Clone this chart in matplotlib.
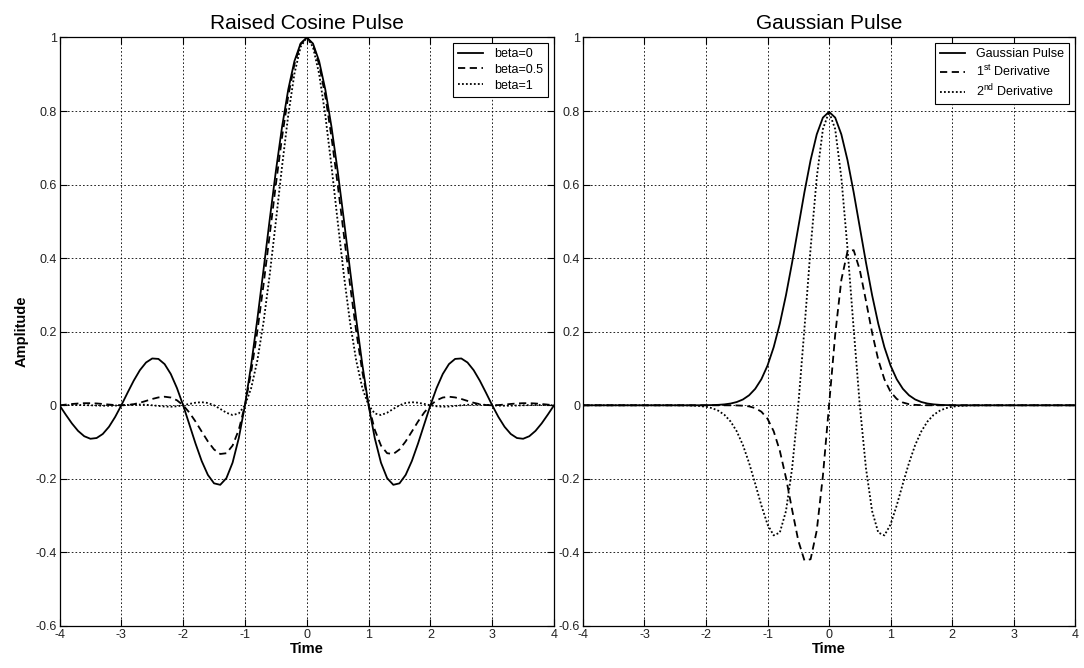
import matplotlib
matplotlib.use("Agg")
import matplotlib.pyplot as plt

plt.rcParams['font.family'] = ['Liberation Sans', 'DejaVu Sans']
plt.rcParams['mathtext.fontset'] = 'custom'
plt.rcParams['mathtext.rm'] = 'Liberation Sans'

# ---------------- data: raised cosine pulse ----------------
t_rc = [-4.0, -3.9, -3.8, -3.7, -3.6, -3.5, -3.4, -3.3, -3.2, -3.1,
        -3.0, -2.9, -2.8, -2.7, -2.6, -2.5, -2.4, -2.3, -2.2, -2.1,
        -2.0, -1.9, -1.8, -1.7, -1.6, -1.5, -1.4, -1.3, -1.2, -1.1,
        -1.0, -0.9, -0.8, -0.7, -0.6, -0.5, -0.4, -0.3, -0.2, -0.1,
        0.0, 0.1, 0.2, 0.3, 0.4, 0.5, 0.6, 0.7, 0.8, 0.9,
        1.0, 1.1, 1.2, 1.3, 1.4, 1.5, 1.6, 1.7, 1.8, 1.9,
        2.0, 2.1, 2.2, 2.3, 2.4, 2.5, 2.6, 2.7, 2.8, 2.9,
        3.0, 3.1, 3.2, 3.3, 3.4, 3.5, 3.6, 3.7, 3.8, 3.9, 4.0]

beta0 = [0.0, -0.0252, -0.0492, -0.0696, -0.0841, -0.0910, -0.0890, -0.0780, -0.0585, -0.0317,
         0.0, 0.0339, 0.0668, 0.0954, 0.1164, 0.1273, 0.1261, 0.1120, 0.0851, 0.0468,
         0.0, -0.0518, -0.1039, -0.1515, -0.1892, -0.2122, -0.2162, -0.1981, -0.1559, -0.0894,
         0.0, 0.1093, 0.2339, 0.3679, 0.5046, 0.6366, 0.7568, 0.8584, 0.9355, 0.9836,
         1.0, 0.9836, 0.9355, 0.8584, 0.7568, 0.6366, 0.5046, 0.3679, 0.2339, 0.1093,
         0.0, -0.0894, -0.1559, -0.1981, -0.2162, -0.2122, -0.1892, -0.1515, -0.1039, -0.0518,
         0.0, 0.0468, 0.0851, 0.1120, 0.1261, 0.1273, 0.1164, 0.0954, 0.0668, 0.0339,
         0.0, -0.0317, -0.0585, -0.0780, -0.0890, -0.0910, -0.0841, -0.0696, -0.0492, -0.0252, 0.0]

beta05 = [0.0, 0.0018, 0.0035, 0.0049, 0.0057, 0.0057, 0.0050, 0.0036, 0.0020, 0.0006,
          0.0, 0.0007, 0.0030, 0.0069, 0.0119, 0.0172, 0.0214, 0.0233, 0.0211, 0.0136,
          0.0, -0.0196, -0.0441, -0.0714, -0.0981, -0.1201, -0.1324, -0.1303, -0.1095, -0.0666,
          0.0, 0.0900, 0.2008, 0.3275, 0.4634, 0.6002, 0.7289, 0.8405, 0.9268, 0.9813,
          1.0, 0.9813, 0.9268, 0.8405, 0.7289, 0.6002, 0.4634, 0.3275, 0.2008, 0.0900,
          0.0, -0.0666, -0.1095, -0.1303, -0.1324, -0.1201, -0.0981, -0.0714, -0.0441, -0.0196,
          0.0, 0.0136, 0.0211, 0.0233, 0.0214, 0.0172, 0.0119, 0.0069, 0.0030, 0.0007,
          0.0, 0.0006, 0.0020, 0.0036, 0.0050, 0.0057, 0.0057, 0.0049, 0.0035, 0.0018, 0.0]

beta1 = [0.0, 0.0004, 0.0007, 0.0008, 0.0005, 0.0, -0.0006, -0.0011, -0.0012, -0.0008,
         0.0, 0.0010, 0.0018, 0.0020, 0.0014, 0.0, -0.0018, -0.0033, -0.0038, -0.0027,
         0.0, 0.0037, 0.0070, 0.0084, 0.0063, 0.0, -0.0098, -0.0202, -0.0265, -0.0222,
         0.0, 0.0464, 0.1213, 0.2253, 0.3544, 0.5000, 0.6497, 0.7884, 0.9010, 0.9745,
         1.0, 0.9745, 0.9010, 0.7884, 0.6497, 0.5000, 0.3544, 0.2253, 0.1213, 0.0464,
         0.0, -0.0222, -0.0265, -0.0202, -0.0098, 0.0, 0.0063, 0.0084, 0.0070, 0.0037,
         0.0, -0.0027, -0.0038, -0.0033, -0.0018, 0.0, 0.0014, 0.0020, 0.0018, 0.0010,
         0.0, -0.0008, -0.0012, -0.0011, -0.0006, 0.0, 0.0005, 0.0008, 0.0007, 0.0004, 0.0]

rc_labels = ["beta=0", "beta=0.5", "beta=1"]

# ---------------- data: Gaussian pulse ----------------
t_g = t_rc

gauss = [0.0] * 19 + [0.0001, 0.0003, 0.0006, 0.0012, 0.0025, 0.0048, 0.0089, 0.0158, 0.0272, 0.0448, 0.0709,
         0.1080, 0.1579, 0.2218, 0.2995, 0.3884, 0.4839, 0.5794, 0.6665, 0.7365, 0.7821,
         0.7979, 0.7821, 0.7365, 0.6665, 0.5794, 0.4839, 0.3884, 0.2995, 0.2218, 0.1579,
         0.1080, 0.0709, 0.0448, 0.0272, 0.0158, 0.0089, 0.0048, 0.0025, 0.0012, 0.0006,
         0.0003, 0.0001] + [0.0] * 19

deriv1 = [0.0] * 24 + [-0.0001, -0.0004, -0.0011, -0.0030, -0.0076, -0.0174,
          -0.0366, -0.0705, -0.1237, -0.1972, -0.2843, -0.3679, -0.4218, -0.4186, -0.3409, -0.1922,
          0.0, 0.1922, 0.3409, 0.4186, 0.4218, 0.3679, 0.2843, 0.1972, 0.1237, 0.0705,
          0.0366, 0.0174, 0.0076, 0.0030, 0.0011, 0.0004, 0.0001] + [0.0] * 24

deriv2 = [0.0] * 15 + [-0.0001, -0.0002, -0.0004, -0.0009, -0.0020,
          -0.0040, -0.0078, -0.0147, -0.0260, -0.0441, -0.0709, -0.1081, -0.1567, -0.2132, -0.2723,
          -0.3240, -0.3537, -0.3460, -0.2875, -0.1709, 0.0, 0.2086, 0.4266, 0.6187, 0.7508,
          0.7979, 0.7508, 0.6187, 0.4266, 0.2086, 0.0, -0.1709, -0.2875, -0.3460, -0.3537,
          -0.3240, -0.2723, -0.2132, -0.1567, -0.1081, -0.0709, -0.0441, -0.0260, -0.0147, -0.0078,
          -0.0040, -0.0020, -0.0009, -0.0004, -0.0002, -0.0001] + [0.0] * 15

g_labels = ["Gaussian Pulse", "1$^{\\mathrm{st}}$ Derivative", "2$^{\\mathrm{nd}}$ Derivative"]

x_ticks = [-4, -3, -2, -1, 0, 1, 2, 3, 4]
x_ticklabels = ["-4", "-3", "-2", "-1", "0", "1", "2", "3", "4"]
y_ticks = [-0.6, -0.4, -0.2, 0, 0.2, 0.4, 0.6, 0.8, 1]
y_ticklabels = ["-0.6", "-0.4", "-0.2", "0", "0.2", "0.4", "0.6", "0.8", "1"]

# ---------------- figure ----------------
fig = plt.figure(figsize=(10.84, 6.68), dpi=100)
ax1 = fig.add_axes([0.0549, 0.0629, 0.4562, 0.8810])
ax2 = fig.add_axes([0.5378, 0.0629, 0.4540, 0.8810])

styles = [dict(ls='-', lw=1.3), dict(ls=(0, (4, 2.5)), lw=1.3), dict(ls=(0, (1, 1.2)), lw=1.3)]


def style_axes(ax, title):
    ax.set_xlim(-4, 4)
    ax.set_ylim(-0.6, 1)
    ax.set_xticks(x_ticks)
    ax.set_xticklabels(x_ticklabels)
    ax.set_yticks(y_ticks)
    ax.set_yticklabels(y_ticklabels)
    ax.tick_params(direction='in', length=5, width=0.8, labelsize=9, pad=2,
                   top=True, right=True, colors='black')
    ax.tick_params(axis='x', labelcolor='#222222')
    ax.tick_params(axis='y', labelcolor='#222222')
    ax.grid(True, color='black', linestyle=(0, (2, 2.5)), linewidth=0.6)
    for s in ax.spines.values():
        s.set_linewidth(0.9)
    ax.set_title(title, fontsize=15, pad=6)
    ax.set_xlabel("Time", fontsize=10.5, fontweight='bold', labelpad=1)


def add_legend(ax):
    leg = ax.legend(loc='upper right', fontsize=9, fancybox=False, framealpha=1,
                    edgecolor='black', handlelength=2.0, handletextpad=0.9,
                    borderaxespad=0.45, borderpad=0.4, labelspacing=0.3)
    leg.get_frame().set_linewidth(0.8)
    return leg


for ys, st, lab in zip([beta0, beta05, beta1], styles, rc_labels):
    ax1.plot(t_rc, ys, color='black', label=lab, **st)
style_axes(ax1, "Raised Cosine Pulse")
ax1.set_ylabel("Amplitude", fontsize=10.5, fontweight='bold', labelpad=5)
add_legend(ax1)

for ys, st, lab in zip([gauss, deriv1, deriv2], styles, g_labels):
    ax2.plot(t_g, ys, color='black', label=lab, **st)
style_axes(ax2, "Gaussian Pulse")
add_legend(ax2)

fig.savefig("out.png", dpi=100)
